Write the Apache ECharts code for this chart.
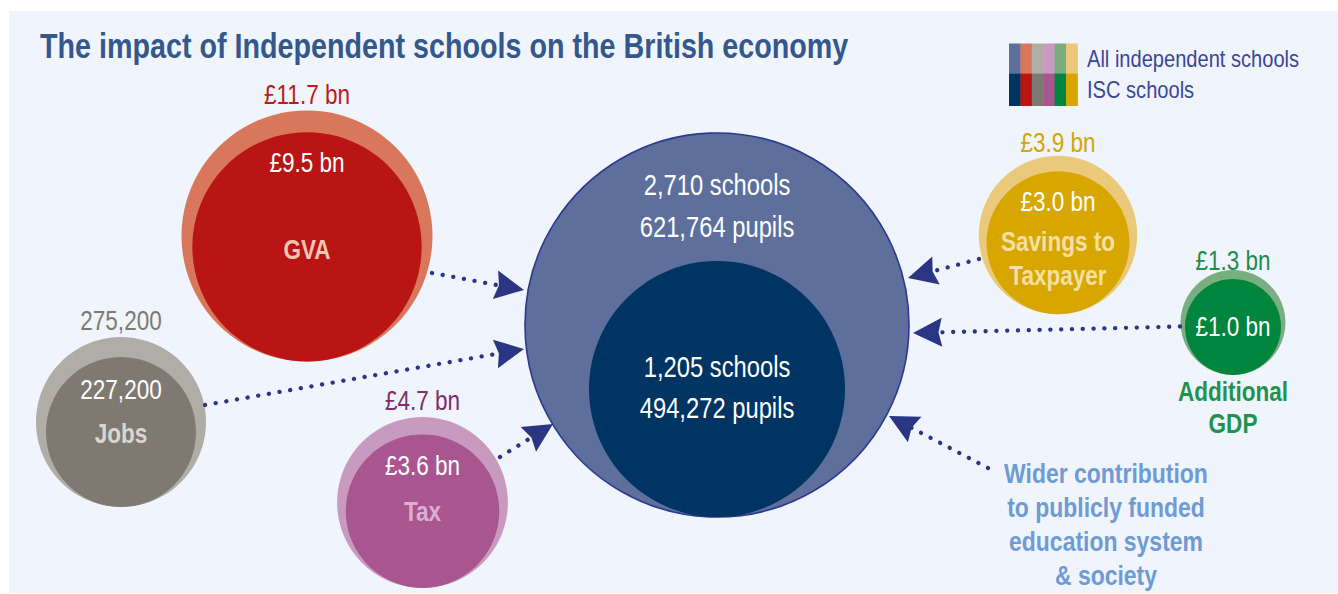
<!DOCTYPE html>
<html>
<head>
<meta charset="utf-8">
<script src="https://cdn.jsdelivr.net/npm/echarts@6/dist/echarts.min.js"></script>
<style>
  html, body { margin: 0; padding: 0; background: #ffffff; }
  #chart { width: 1338px; height: 594px; }
</style>
</head>
<body>
<div id="chart"></div>
<script>
// Economic impact measures: all independent schools vs ISC member schools
const measures = ['GVA', 'Jobs', 'Tax', 'Savings to\nTaxpayer', 'Additional\nGDP'];
const allIndependent = [11.7, 275200, 4.7, 3.9, 1.3];
const iscSchools = [9.5, 227200, 3.6, 3.0, 1.0];
const measureKinds = ['money', 'jobs', 'money', 'money', 'money'];

// School and pupil counts shown in the central circle
const schoolGroups = ['All independent schools', 'ISC schools'];
const schoolCounts = [2710, 1205];
const pupilCounts = [621764, 494272];

const titleText = 'The impact of Independent schools on the British economy';
const widerText = 'Wider contribution\nto publicly funded\neducation system\n& society';

// ---- styling ----
const FONT = '"Liberation Sans", Arial, Helvetica, sans-serif';
const NARROW = 0.82;               // horizontal squeeze to get a condensed face
const centralColors = ['#5e6f9c', '#003462'];
const outerColors = ['#d8775c', '#b0aca6', '#c99abf', '#ebc97a', '#79ae81'];
const innerColors = ['#b91515', '#7e7a72', '#a9558f', '#d7a700', '#00853e'];
const valueColors = ['#b91c1c', '#7d7a73', '#7f2d6b', '#d5a500', '#1e8c4b'];
const nameColors = ['#f2c4b3', '#dad6cf', '#dcaed0', '#f6dfa2', '#1f924f'];
const arrowColor = '#2a3583';

// Page layout in pixels (the hidden axes map 1:1 onto the canvas)
const W = 1338, H = 594;
const bubbleLayout = [
  { cx: 307,   cy: 236,   valueY: 94,  innerY: 162,   nameY: 249.5, nameLH: 34 },
  { cx: 121,   cy: 422,   valueY: 320, innerY: 389.5, nameY: 433,   nameLH: 34 },
  { cx: 422.5, cy: 502.5, valueY: 400, innerY: 465,   nameY: 511,   nameLH: 34 },
  { cx: 1058,  cy: 235,   valueY: 142, innerY: 201.5, nameY: 258.5, nameLH: 34 },
  { cx: 1233,  cy: 322.5, valueY: 260, innerY: 326,   nameY: 407,   nameLH: 32 }
];
const centreLayout = { cx: 717, cy: 325, rows: [[185, 227], [367, 408]] };
const widerLayout = { x: 1106, y: 524.5, lineHeight: 34 };
const arrowPaths = [            // [start, tip]
  [[432, 273], [524, 290]],
  [[205, 405], [524, 349]],
  [[500, 457], [553, 424]],
  [[979, 259], [908, 278]],
  [[1180, 326.5], [913, 333]],
  [[988, 468], [889, 416]]
];
const ARROW_W = 20, ARROW_L = 29;

// ---- size scales (circle area grows with the value) ----
function sqrtScale(domain, range) {
  const d0 = Math.sqrt(domain[0]), d1 = Math.sqrt(domain[1]);
  return v => range[0] + (Math.sqrt(v) - d0) / (d1 - d0) * (range[1] - range[0]);
}
const moneyValues = allIndependent.concat(iscSchools).filter((v, i) => measureKinds[i % measureKinds.length] === 'money');
const jobValues = [allIndependent[1], iscSchools[1]];
const radiusScales = {
  money: sqrtScale([Math.min(...moneyValues), Math.max(...moneyValues)], [48, 125.5]),
  jobs: sqrtScale([Math.min(...jobValues), Math.max(...jobValues)], [75, 85]),
  schools: sqrtScale([0, Math.max(...schoolCounts)], [0, 192])
};
const radiusOf = (v, kind) => radiusScales[kind](v);

const fmtMoney = v => '\u00a3' + v.toFixed(1) + ' bn';
const fmtCount = v => String(v).replace(/\B(?=(\d{3})+(?!\d))/g, ',');
const fmtValue = (v, kind) => kind === 'money' ? fmtMoney(v) : fmtCount(v);

// ---- circles ----
const outerData = [];
const innerData = [];
{
  const R = radiusOf(schoolCounts[0], 'schools');
  const r = radiusOf(schoolCounts[1], 'schools');
  outerData.push({
    value: [centreLayout.cx, centreLayout.cy, schoolCounts[0], 'schools'],
    itemStyle: { color: centralColors[0], borderColor: '#2b3990', borderWidth: 1.6, opacity: 1 }
  });
  innerData.push({
    value: [centreLayout.cx, centreLayout.cy + R - r, schoolCounts[1], 'schools'],
    itemStyle: { color: centralColors[1], opacity: 1 }
  });
}
measures.forEach((m, i) => {
  const L = bubbleLayout[i], kind = measureKinds[i];
  const R = radiusOf(allIndependent[i], kind);
  const r = radiusOf(iscSchools[i], kind);
  outerData.push({ value: [L.cx, L.cy, allIndependent[i], kind], itemStyle: { color: outerColors[i], opacity: 1 } });
  innerData.push({ value: [L.cx, L.cy + R - r, iscSchools[i], kind], itemStyle: { color: innerColors[i], opacity: 1 } });
});
const sizeFn = val => 2 * radiusOf(val[2], val[3]);

// ---- arrows: line ends at the arrowhead centre so the tip lands on the target ----
const arrowData = arrowPaths.map(([s, t]) => {
  const dx = t[0] - s[0], dy = t[1] - s[1];
  const len = Math.hypot(dx, dy);
  const e = [t[0] - dx / len * ARROW_L / 2, t[1] - dy / len * ARROW_L / 2];
  return { coords: [s, e] };
});

// ---- text ----
function text(x, y, str, size, color, weight, align, lineHeight) {
  return {
    type: 'text', x: x, y: y, scaleX: NARROW, z: 100, silent: true,
    style: {
      text: str, x: 0, y: 0, fill: color, fontFamily: FONT, fontSize: size,
      fontWeight: weight || 'normal', align: align || 'center', verticalAlign: 'middle',
      lineHeight: lineHeight || Math.round(size * 1.2)
    }
  };
}

const graphics = [];
// panel
graphics.push({ type: 'rect', z: -10, silent: true,
  shape: { x: 9, y: 11, width: W - 9, height: 582 }, style: { fill: '#f0f4fc' } });
// title
graphics.push(text(40, 46, titleText, 35, '#34588c', 'bold', 'left'));
// legend swatches
const legendTop = [centralColors[0], outerColors[0], outerColors[1], outerColors[2], outerColors[4], outerColors[3]];
const legendBottom = [centralColors[1], innerColors[0], innerColors[1], innerColors[2], innerColors[4], innerColors[3]];
legendTop.forEach((c, i) => {
  graphics.push({ type: 'rect', z: 5, silent: true,
    shape: { x: 1009 + i * 11.4, y: 43.5, width: 11.9, height: 30.3 }, style: { fill: c } });
});
legendBottom.forEach((c, i) => {
  graphics.push({ type: 'rect', z: 5, silent: true,
    shape: { x: 1009 + i * 11.4, y: 73.5, width: 11.9, height: 32.5 }, style: { fill: c } });
});
graphics.push(text(1087, 59, schoolGroups[0], 24.5, '#3b4795', 'normal', 'left'));
graphics.push(text(1087, 89.5, schoolGroups[1], 24.5, '#3b4795', 'normal', 'left'));

// bubble labels
measures.forEach((m, i) => {
  const L = bubbleLayout[i], kind = measureKinds[i];
  graphics.push(text(L.cx, L.valueY, fmtValue(allIndependent[i], kind), 27.5, valueColors[i]));
  graphics.push(text(L.cx, L.innerY, fmtValue(iscSchools[i], kind), 27.5, '#ffffff'));
  graphics.push(text(L.cx, L.nameY, m, 27.5, nameColors[i], 'bold', 'center', L.nameLH));
});

// central circle labels
[0, 1].forEach(g => {
  const rows = centreLayout.rows[g];
  graphics.push(text(centreLayout.cx, rows[0], fmtCount(schoolCounts[g]) + ' schools', 29, '#ffffff'));
  graphics.push(text(centreLayout.cx, rows[1], fmtCount(pupilCounts[g]) + ' pupils', 29, '#ffffff'));
});

// wider contribution note
graphics.push(text(widerLayout.x, widerLayout.y, widerText, 28, '#6f9bd4', 'bold', 'center', widerLayout.lineHeight));

const chart = echarts.init(document.getElementById('chart'), null, { renderer: 'svg' });
chart.setOption({
  animation: false,
  backgroundColor: '#ffffff',
  grid: { left: 0, right: 0, top: 0, bottom: 0, containLabel: false },
  xAxis: { type: 'value', min: 0, max: W, show: false },
  yAxis: { type: 'value', min: 0, max: H, inverse: true, show: false },
  tooltip: { show: false },
  graphic: { elements: graphics },
  series: [
    {
      name: schoolGroups[0], type: 'scatter', z: 2, silent: true,
      symbol: 'circle', symbolSize: sizeFn, data: outerData,
      itemStyle: { opacity: 1 },
      emphasis: { disabled: true }
    },
    {
      name: schoolGroups[1], type: 'scatter', z: 3, silent: true,
      symbol: 'circle', symbolSize: sizeFn, data: innerData,
      itemStyle: { opacity: 1 },
      emphasis: { disabled: true }
    },
    {
      type: 'lines', coordinateSystem: 'cartesian2d', z: 4, silent: true,
      symbol: ['none', 'path://M10 0 L20 29 L10 25.5 L0 29 Z'],
      symbolSize: [ARROW_W, ARROW_L],
      lineStyle: { color: arrowColor, width: 4.3, type: [0.1, 10.7], cap: 'round', opacity: 1, curveness: 0 },
      data: arrowData
    }
  ]
});
</script>
</body>
</html>
